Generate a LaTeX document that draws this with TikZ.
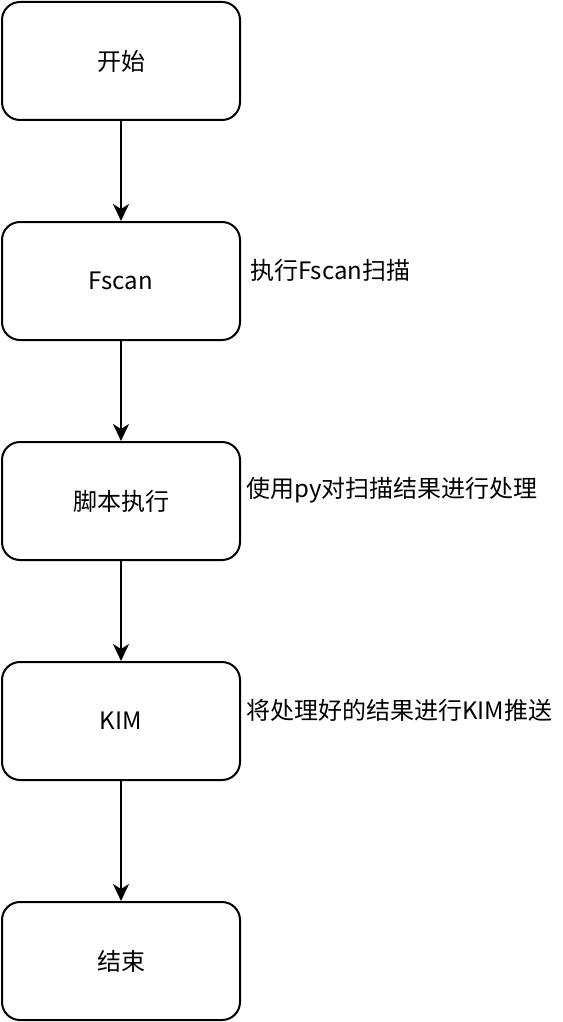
\documentclass[tikz,border=0pt]{standalone}
\usepackage{fontspec}
\setmainfont{Noto Sans CJK SC}
\usetikzlibrary{arrows.meta}

\begin{document}
\begin{tikzpicture}[x=1pt, y=-1pt, node distance=220pt, main/.style = {draw, line width=2pt, rounded corners=18pt, minimum width=238pt, minimum height=118pt, font=\fontsize{24}{28}\selectfont}, note/.style = {anchor=west, inner sep=0pt, font=\fontsize{24}{28}\selectfont}, arr/.style = {line width=2pt, -{Stealth[length=17pt, width=16pt, inset=5pt]}}]
	\useasboundingbox (0,0) rectangle (562,1022);
	\node[main] (1) at (121,61) {开始};
	\node[main] (2) [below of = 1] {Fscan};
	\node[main] (3) [below of = 2] {脚本执行};
	\node[main] (4) [below of = 3] {KIM};
	\node[main] (5) [below of = 4, node distance=240pt] {结束};
	\node[note] (a) at (250,270) {执行Fscan扫描};
	\node[note] (b) at (246,490) {使用py对扫描结果进行处理};
	\node[note] (c) at (246,710) {将处理好的结果进行KIM推送};
	\draw[arr] (1) -- (2);
	\draw[arr] (2) -- (3);
	\draw[arr] (3) -- (4);
	\draw[arr] (4) -- (5);
\end{tikzpicture}
\end{document}
